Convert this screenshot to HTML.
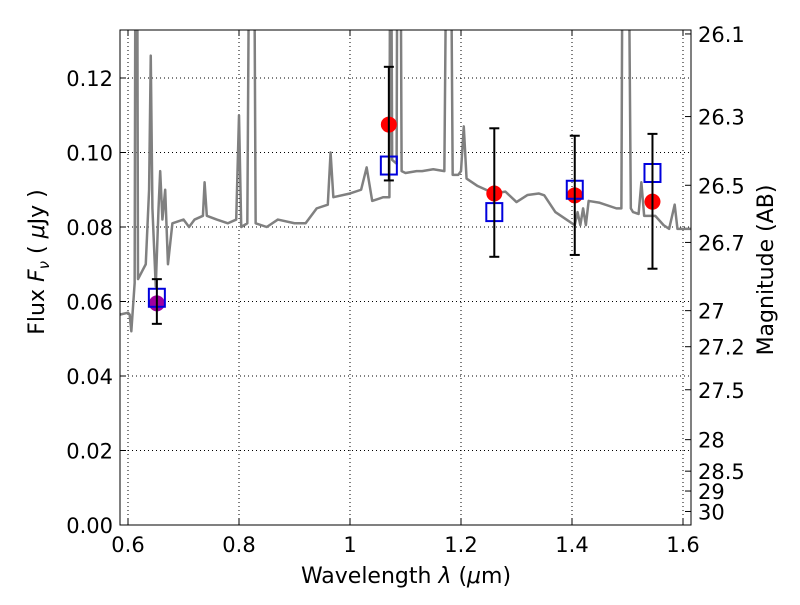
<!DOCTYPE html>
<html><head><meta charset="utf-8"><style>
body{margin:0;background:#fff;}
svg text{font-family:"DejaVu Sans","Liberation Sans",sans-serif;font-size:21px;fill:#000;}
svg text.title{font-size:22px;}
</style></head><body>
<svg id="chart" width="800" height="600" xmlns="http://www.w3.org/2000/svg">
<defs><clipPath id="clip"><rect x="120" y="30" width="571" height="495"/></clipPath></defs>
<g id="grid"></g>
<g id="spec" clip-path="url(#clip)"></g>
<g id="marks" clip-path="url(#clip)"></g>
<rect x="120" y="30" width="571" height="495" fill="none" stroke="#000" stroke-width="1"/>
<g id="axes"></g>
<text class="title" x="406" y="583" text-anchor="middle">Wavelength  <tspan font-style="italic">λ</tspan> (<tspan font-style="italic">μ</tspan>m)</text>
<text class="title" transform="translate(44,262) rotate(-90)" text-anchor="middle">Flux  <tspan font-style="italic">F</tspan><tspan font-style="italic" font-size="15" dy="5">ν</tspan><tspan dy="-5">  (  </tspan><tspan font-style="italic">μ</tspan>Jy )</text>
<text class="title" transform="translate(773,270) rotate(-90)" text-anchor="middle">Magnitude (AB)</text>
</svg>
<script>
const specLam=[0.586,0.6,0.603,0.606,0.612,0.614,0.616,0.618,0.625,0.632,0.638,0.641,0.644,0.65,0.655,0.658,0.662,0.667,0.672,0.68,0.7,0.71,0.72,0.735,0.738,0.742,0.76,0.78,0.795,0.8,0.804,0.815,0.82,0.826,0.83,0.85,0.87,0.9,0.92,0.94,0.96,0.965,0.97,1.0,1.02,1.03,1.04,1.06,1.071,1.073,1.076,1.084,1.086,1.09,1.093,1.1,1.12,1.13,1.15,1.17,1.176,1.18,1.185,1.195,1.2,1.205,1.21,1.23,1.26,1.28,1.3,1.32,1.34,1.35,1.37,1.38,1.4,1.405,1.41,1.415,1.42,1.425,1.43,1.45,1.48,1.489,1.492,1.5,1.506,1.51,1.52,1.525,1.53,1.55,1.565,1.575,1.585,1.59,1.614];
const specFlux=[0.0565,0.057,0.0565,0.052,0.065,0.2,0.2,0.066,0.068,0.07,0.09,0.126,0.085,0.064,0.085,0.095,0.082,0.09,0.07,0.081,0.082,0.08,0.082,0.083,0.092,0.083,0.082,0.081,0.082,0.11,0.08,0.081,0.2,0.2,0.081,0.08,0.082,0.081,0.081,0.085,0.086,0.1,0.088,0.089,0.09,0.096,0.087,0.088,0.088,0.2,0.098,0.097,0.2,0.2,0.095,0.0945,0.095,0.095,0.0955,0.095,0.2,0.2,0.094,0.094,0.095,0.107,0.093,0.091,0.089,0.0895,0.0867,0.0886,0.089,0.0885,0.084,0.083,0.081,0.0805,0.084,0.0805,0.085,0.0805,0.087,0.0865,0.085,0.085,0.2,0.2,0.085,0.084,0.0835,0.092,0.083,0.083,0.0805,0.0795,0.086,0.0795,0.0795];
const obsLam=[0.652,1.07,1.26,1.405,1.545];
const obsFlux=[0.0595,0.1075,0.089,0.0885,0.0868];
const errLo=[0.054,0.0925,0.072,0.0725,0.0688];
const errHi=[0.066,0.123,0.1065,0.1045,0.105];
const modelFlux=[0.061,0.0965,0.084,0.090,0.0945];
const obsColors=['#a000a0','red','red','red','red'];
const xTicks=[0.6,0.8,1.0,1.2,1.4,1.6];
const xTickLabels=['0.6','0.8','1','1.2','1.4','1.6'];
const yTicks=[0,0.02,0.04,0.06,0.08,0.10,0.12];
const yTickLabels=['0.00','0.02','0.04','0.06','0.08','0.10','0.12'];
const magTicks=[26.1,26.3,26.5,26.7,27,27.2,27.5,28,28.5,29,30];
const magLabels=['26.1','26.3','26.5','26.7','27','27.2','27.5','28','28.5','29','30'];

const NS='http://www.w3.org/2000/svg';
const X=l=>128+(l-0.6)*555;
const Y=f=>525-f*3725;
function mk(tag,attrs,parent){const e=document.createElementNS(NS,tag);for(const k in attrs)e.setAttribute(k,attrs[k]);parent.appendChild(e);return e;}
const grid=document.getElementById('grid'),axes=document.getElementById('axes'),spec=document.getElementById('spec'),marks=document.getElementById('marks');
xTicks.forEach((v,i)=>{const x=X(v);
 const g=mk('line',{x1:x,x2:x,y1:30,y2:525,stroke:'#000','stroke-dasharray':'1,3','stroke-width':1},grid);
 
 
 mk('line',{x1:x,x2:x,y1:525,y2:519,stroke:'#000'},axes);
 mk('line',{x1:x,x2:x,y1:30,y2:36,stroke:'#000'},axes);
 const t=mk('text',{x:x,y:552,'text-anchor':'middle'},axes);t.textContent=xTickLabels[i];
 
 
});
yTicks.forEach((v,i)=>{const y=Y(v);
 if(v>0){const g=mk('line',{x1:120,x2:691,y1:y,y2:y,stroke:'#000','stroke-dasharray':'1,3','stroke-width':1},grid);
 
 }
 mk('line',{x1:120,x2:126,y1:y,y2:y,stroke:'#000'},axes);
 const t=mk('text',{x:113,y:y+8,'text-anchor':'end'},axes);t.textContent=yTickLabels[i];
 
 
});
magTicks.forEach((m,i)=>{const f=Math.pow(10,-(m-23.9)/2.5);const y=Y(f);
 mk('line',{x1:685,x2:691,y1:y,y2:y,stroke:'#000'},axes);
 const t=mk('text',{x:698,y:y+8},axes);t.textContent=magLabels[i];
 
 
});
const p=mk('polyline',{points:specLam.map((l,i)=>X(l)+','+Y(specFlux[i])).join(' '),fill:'none',stroke:'#808080','stroke-width':2.5,'stroke-linejoin':'round'},spec);


obsLam.forEach((l,i)=>{const x=X(l);
 const c=mk('circle',{cx:x,cy:Y(obsFlux[i]),r:8,fill:obsColors[i]},marks);
 
 
 const s=mk('rect',{x:x-8,y:Y(modelFlux[i])-9,width:16,height:18,fill:'none',stroke:'#0000dd','stroke-width':2},marks);
 
 
 const eb=mk('g',{stroke:'#000','stroke-width':2},marks);
 
 
 mk('line',{x1:x,x2:x,y1:Y(errLo[i]),y2:Y(errHi[i])},eb);
 mk('line',{x1:x-5,x2:x+5,y1:Y(errLo[i]),y2:Y(errLo[i])},eb);
 mk('line',{x1:x-5,x2:x+5,y1:Y(errHi[i]),y2:Y(errHi[i])},eb);
});
</script>
</body></html>
